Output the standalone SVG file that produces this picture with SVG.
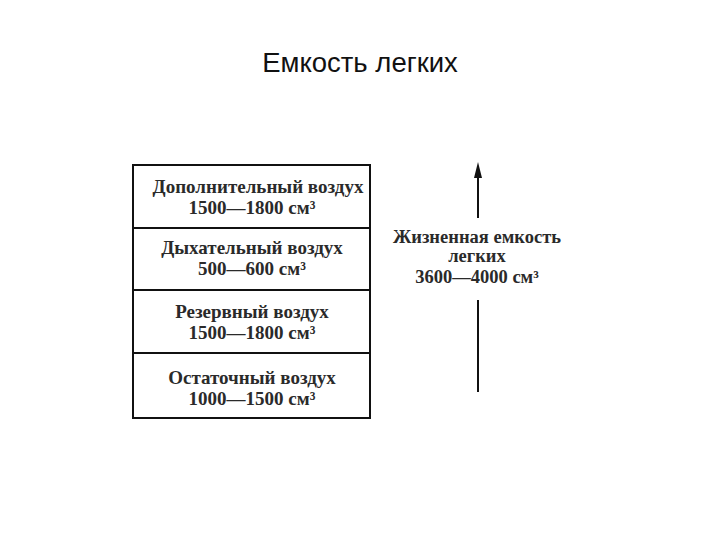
<svg xmlns="http://www.w3.org/2000/svg" width="720" height="540" viewBox="0 0 720 540">
<style>
.t{font-family:"Liberation Serif","Times New Roman",serif;font-size:19px;font-weight:bold;fill:#2a2a2a;text-anchor:middle}
.r{font-size:18.5px}
.box{fill:none;stroke:#111;stroke-width:2}
.ln{stroke:#111;stroke-width:2;fill:none}
</style>
<rect width="720" height="540" fill="#fff"/>
<text x="360" y="72" font-family="Liberation Sans,Arial,sans-serif" font-size="27.5" fill="#111" text-anchor="middle">Емкость легких</text>
<g id="n1"><rect class="box" x="133" y="165" width="237" height="63"/>
<text class="t" x="258" y="193">Дополнительный воздух</text>
<text class="t" x="252" y="214">1500—1800 см³</text></g>
<g id="n2"><rect class="box" x="133" y="228" width="237" height="62"/>
<text class="t" x="252" y="254">Дыхательный воздух</text>
<text class="t" x="252" y="275">500—600 см³</text></g>
<g id="n3"><rect class="box" x="133" y="290" width="237" height="63"/>
<text class="t" x="252" y="318">Резервный воздух</text>
<text class="t" x="252" y="339">1500—1800 см³</text></g>
<g id="n4"><rect class="box" x="133" y="353" width="237" height="65"/>
<text class="t" x="252" y="384">Остаточный воздух</text>
<text class="t" x="252" y="405">1000—1500 см³</text></g>
<g id="n5">
<text class="t r" x="477" y="243">Жизненная емкость</text>
<text class="t r" x="477" y="262">легких</text>
<text class="t r" x="477" y="283">3600—4000 см³</text></g>
<g id="connectors">
<line class="ln" x1="478" y1="218" x2="478" y2="172"/>
<path d="M478,162 L482,178 L474,178 Z" fill="#111"/>
<line class="ln" x1="478" y1="300" x2="478" y2="392"/>
</g>
</svg>
